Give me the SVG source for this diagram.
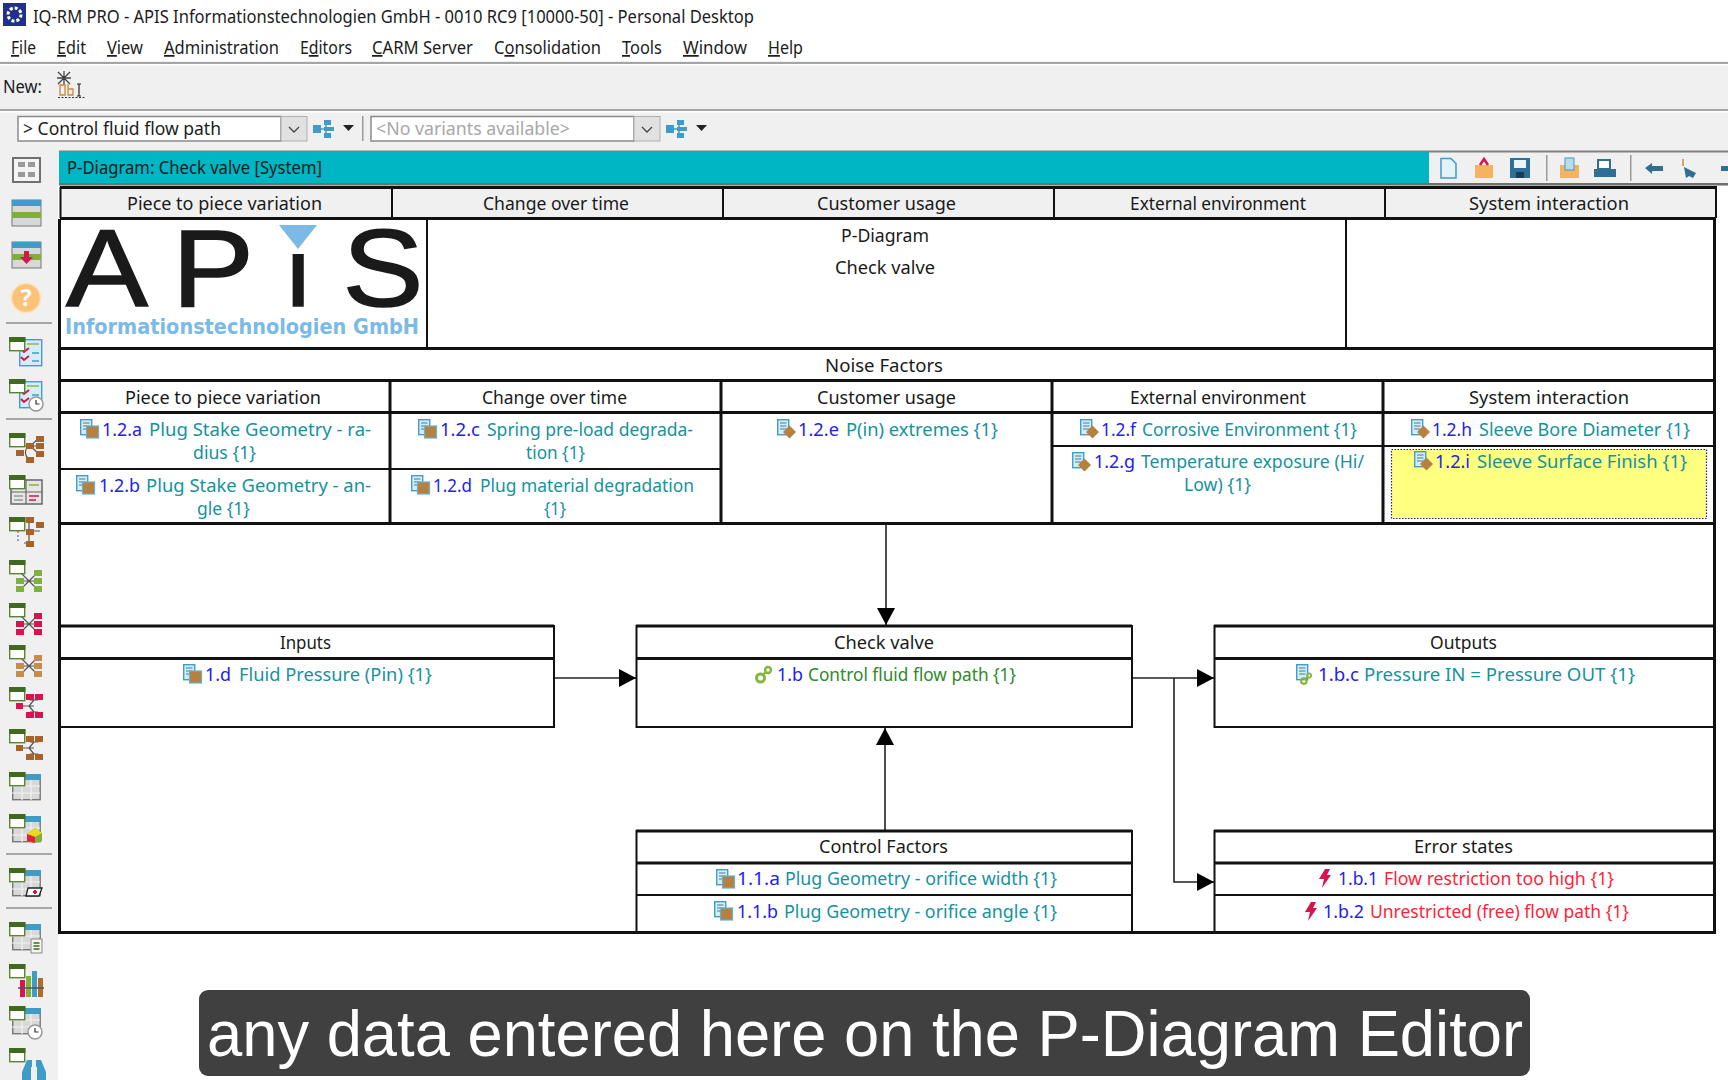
<svg xmlns="http://www.w3.org/2000/svg" width="1728" height="1080" viewBox="0 0 1728 1080">
<style>
text{font-family:"Noto Sans","Liberation Sans",sans-serif;font-size:18px;fill:#1a1a1a;white-space:pre}
.ui{font-size:17.5px;fill:#1c1c1c}
.g{fill:#a8a8a8}
.id{fill:#2222ee}
.tl{fill:#16929e}
.gr{fill:#2f8a2a}
.rd{fill:#ff1f3a}
.h{fill:none;stroke:#111;stroke-width:3}
.m{fill:none;stroke:#111;stroke-width:2}
.c{fill:none;stroke:#222;stroke-width:1.6}
.sep{stroke:#8f8f8f;stroke-width:1.5}
.lg{font-family:"Liberation Sans",sans-serif;font-size:110px;fill:#1a1a1a;stroke:#1a1a1a;stroke-width:1.5}
</style>
<defs>
<marker id="ah" markerUnits="userSpaceOnUse" markerWidth="18" markerHeight="18" refX="17" refY="9" orient="auto"><path d="M0 0L17 9L0 18Z" fill="#000"/></marker>
<g id="doc"><rect x=".7" y=".7" width="11" height="15" fill="#d4edf7" stroke="#3f9fc6" stroke-width="1.4"/><path d="M3 4h6.500M3 7h6.500M3 10h6.500" stroke="#3f7f9f" stroke-width="1"/></g>
<g id="i-sq"><use href="#doc"/><rect x="6.500" y="7" width="12" height="12" fill="#b8803e" stroke="#5fb3d4" stroke-width="1.200"/></g>
<g id="i-dia"><use href="#doc"/><path d="M12.500 6.500l6.500 6.500l-6.500 6.500l-6.500-6.500Z" fill="#b8803e"/></g>
<g id="i-gear"><circle cx="5.500" cy="13" r="4" fill="none" stroke="#86b53c" stroke-width="3"/><circle cx="13" cy="5" r="3" fill="none" stroke="#86b53c" stroke-width="2.400"/><path d="M8 10l3-3" stroke="#86b53c" stroke-width="2.400"/></g>
<path id="i-bolt" d="M9 0L14 0L11 6L15 6L6 19L8 10L3 10Z" fill="#d9134f"/>
<g id="win"><rect x="9.700" y=".7" width="15" height="13" fill="#fff" stroke="#5c8236" stroke-width="1.400"/><rect x="9" y="0" width="16.400" height="5" fill="#3f6a1f"/></g>
<g id="grid"><rect x="12.700" y="3.700" width="27.500" height="24" fill="#d8d8d8" stroke="#777" stroke-width="1.400"/><rect x="25" y="2" width="16" height="6" fill="#3f9cc6"/><path d="M12 14h28M12 21h28M22 8v20M31 8v20" stroke="#f2f2f2" stroke-width="1.200"/></g>
<g id="clk"><circle r="7" fill="#fff" stroke="#999" stroke-width="1.500"/><path d="M0-4V0H3.500" fill="none" stroke="#333" stroke-width="1.200"/></g>
<g id="listdoc"><rect x="19.700" y="2.700" width="22" height="26" fill="#d4edf7" stroke="#3f9fc6" stroke-width="1.400"/><path d="M27 7h12" stroke="#8ab83e" stroke-width="1.500"/><path d="M21 12l3 3l5-4M21 20l3 3l5-4" fill="none" stroke="#d9134f" stroke-width="2"/><path d="M32 16h7M32 24h7" stroke="#3f9fc6" stroke-width="1.300"/></g>
<g id="bfly"><path d="M29 21L20 12M29 21L20 21M29 21L20 30M29 21L38 12M29 21L38 21M29 21L38 30" stroke="#555" stroke-width="1.200"/><rect x="16" y="18" width="8" height="6"/><rect x="16" y="26" width="8" height="6"/><rect x="34" y="10" width="8" height="6"/><rect x="34" y="18" width="8" height="6"/><rect x="34" y="26" width="8" height="6"/></g>
<g id="fish"><path d="M20 19H29M29 19L34 13M29 19L34 19M29 19L34 25M38 13H30M38 25H30" fill="none" stroke="#555" stroke-width="1.200"/><rect x="16" y="16" width="7" height="6"/><rect x="26" y="7" width="8" height="6"/><rect x="35" y="7" width="8" height="6"/><rect x="26" y="25" width="8" height="6"/><rect x="35" y="25" width="8" height="6"/></g>
</defs>

<rect width="1728" height="1080" fill="#fff"/>

<g id="title-bar">
<rect x="3" y="3" width="23" height="23" fill="#20308c"/><circle cx="14.500" cy="14.500" r="6.500" fill="none" stroke="#fff" stroke-width="3" stroke-dasharray="3 2"/>
<text x="33" y="23" class="ui" textLength="721" lengthAdjust="spacingAndGlyphs">IQ-RM PRO - APIS Informationstechnologien GmbH - 0010 RC9 [10000-50] - Personal Desktop</text>
</g>
<g id="menu">
<text x="11" y="54" class="ui" textLength="25" lengthAdjust="spacingAndGlyphs"><tspan text-decoration="underline">F</tspan>ile</text>
<text x="57" y="54" class="ui" textLength="29" lengthAdjust="spacingAndGlyphs"><tspan text-decoration="underline">E</tspan>dit</text>
<text x="107" y="54" class="ui" textLength="36" lengthAdjust="spacingAndGlyphs"><tspan text-decoration="underline">V</tspan>iew</text>
<text x="164" y="54" class="ui" textLength="115" lengthAdjust="spacingAndGlyphs"><tspan text-decoration="underline">A</tspan>dministration</text>
<text x="300" y="54" class="ui" textLength="52" lengthAdjust="spacingAndGlyphs">E<tspan text-decoration="underline">d</tspan>itors</text>
<text x="372" y="54" class="ui" textLength="101" lengthAdjust="spacingAndGlyphs"><tspan text-decoration="underline">C</tspan>ARM Server</text>
<text x="494" y="54" class="ui" textLength="107" lengthAdjust="spacingAndGlyphs">C<tspan text-decoration="underline">o</tspan>nsolidation</text>
<text x="622" y="54" class="ui" textLength="40" lengthAdjust="spacingAndGlyphs"><tspan text-decoration="underline">T</tspan>ools</text>
<text x="683" y="54" class="ui" textLength="64" lengthAdjust="spacingAndGlyphs"><tspan text-decoration="underline">W</tspan>indow</text>
<text x="768" y="54" class="ui" textLength="35" lengthAdjust="spacingAndGlyphs"><tspan text-decoration="underline">H</tspan>elp</text>
</g>

<g id="toolbars">
<rect x="0" y="61" width="1728" height="125" fill="#f0f0f0"/>
<rect x="0" y="62" width="1728" height="2" fill="#a5a5a5"/>
<rect x="0" y="64" width="1728" height="1.500" fill="#fff"/>
<rect x="0" y="109" width="1728" height="2" fill="#a5a5a5"/>
<rect x="0" y="111" width="1728" height="1.500" fill="#fff"/>
<text x="3" y="93" class="ui" textLength="39" lengthAdjust="spacingAndGlyphs">New:</text>
<path d="M58 72L70 84M70 72L58 84M64 71V85M57 78H71M60 74L68 82M68 74L60 82" stroke="#444" stroke-width="1.300"/>
<path d="M58 97.500H85" stroke="#333" stroke-width="1.200" stroke-dasharray="2 1.500"/>
<path d="M60 85h5v10h-5zM68 84v11h5v-6h-5" fill="none" stroke="#c98a3a" stroke-width="1.300"/>
<path d="M79 84v12M77 84h4M77 96h4" stroke="#222" stroke-width="1.200" fill="none"/>
<g id="combo-path">
<rect x="18" y="116.500" width="263" height="24.500" fill="#fff" stroke="#8a8a8a" stroke-width="1.500"/>
<rect x="281" y="116.500" width="26" height="24.500" fill="#e1e1e1" stroke="#b0b0b0"/>
<path d="M289 127l5 5l5-5" fill="none" stroke="#444" stroke-width="1.300"/>
<text x="23" y="135" class="ui" textLength="198" lengthAdjust="spacingAndGlyphs">&gt; Control fluid flow path</text>
<g id="combo-icon1"><path d="M318 129H326M326 123V135" stroke="#3f9cc6" stroke-width="1.500"/><rect x="313" y="125" width="8" height="8" fill="#3f9cc6"/><rect x="324" y="120" width="7" height="5" fill="#3f9cc6"/><rect x="324" y="127" width="10" height="4" fill="#3f9cc6"/><rect x="324" y="133" width="7" height="5" fill="#3f9cc6"/></g>
<path d="M343 125H354L348.500 131Z" fill="#222"/>
</g>
<rect x="362" y="116" width="1.500" height="25" fill="#9a9a9a"/>
<g id="combo-variant">
<rect x="371" y="116.500" width="263" height="24.500" fill="#fff" stroke="#8a8a8a" stroke-width="1.500"/>
<rect x="634" y="116.500" width="26" height="24.500" fill="#e1e1e1" stroke="#b0b0b0"/>
<path d="M642 127l5 5l5-5" fill="none" stroke="#444" stroke-width="1.300"/>
<text x="376" y="135" class="ui g" textLength="194" lengthAdjust="spacingAndGlyphs">&lt;No variants available&gt;</text>
<use href="#combo-icon1" x="353"/>
<path d="M696 125H707L701.500 131Z" fill="#222"/>
</g>
</g>

<g id="left-rail">
<rect x="0" y="150" width="58" height="930" fill="#f0f0f0"/>
<g transform="translate(0,157)"><rect x="13" y="1" width="27" height="24" fill="#f4f4f4" stroke="#707070" stroke-width="2"/><rect x="18" y="5" width="7" height="5" fill="#9a9a9a"/><rect x="28" y="5" width="7" height="5" fill="#9a9a9a"/><rect x="18" y="15" width="7" height="5" fill="#9a9a9a"/><rect x="28" y="15" width="7" height="5" fill="#9a9a9a"/></g>
<g id="tbl-a" transform="translate(0,200)"><rect x="12" y="0" width="29" height="26" fill="#d8d8d8" stroke="#777"/><rect x="12" y="0" width="29" height="6" fill="#3f9cc6"/><rect x="12" y="12" width="29" height="6" fill="#7fae3a"/></g>
<g transform="translate(0,242)"><rect x="12" y="0" width="29" height="26" fill="#d8d8d8" stroke="#777"/><rect x="12" y="0" width="29" height="6" fill="#3f9cc6"/><rect x="12" y="12" width="29" height="6" fill="#7fae3a"/><path d="M24 9h5v6h4l-6.500 7l-6.500-7h4Z" fill="#d9134f"/></g>
<circle cx="26" cy="298" r="14.500" fill="#fbc27a" stroke="#fde2bd" stroke-width="1.500"/>
<text x="26" y="306" text-anchor="middle" style="font-size:23px;font-weight:700;fill:#fff">?</text>
<path class="sep" d="M6 323H52M6 419H52M6 854H52M6 908H52"/>
<g transform="translate(0,337)"><use href="#listdoc"/><use href="#win"/></g>
<g transform="translate(0,379)"><use href="#listdoc"/><use href="#win"/><use href="#clk" x="36" y="25"/></g>
<g transform="translate(0,433)" fill="#a8622a"><path d="M30 13H20M30 13L38 6M30 13H38M30 13L38 20M26 16Q24 24 30 26" fill="none" stroke="#555" stroke-width="1.200"/><rect x="26" y="10" width="8" height="6"/><rect x="36" y="3" width="8" height="6"/><rect x="36" y="10" width="8" height="6"/><rect x="36" y="18" width="8" height="6"/><rect x="16" y="17" width="8" height="6"/><rect x="26" y="24" width="8" height="6"/><use href="#win"/></g>
<g transform="translate(0,475)"><rect x="11" y="5" width="31" height="24" fill="#e6e6e6" stroke="#666" stroke-width="1.500"/><path d="M26 5v24M11 17h31" stroke="#666" stroke-width="1.200"/><path d="M29 10h10" stroke="#8ab83e" stroke-width="1.600"/><path d="M29 21h10M29 25h7" stroke="#d9134f" stroke-width="1.500"/><path d="M14 21h9M14 25h9" stroke="#999" stroke-width="1.300"/><use href="#win"/></g>
<g transform="translate(0,517)" fill="#a8622a"><path d="M29 5V26H24M29 14H40" fill="none" stroke="#555" stroke-width="1.200"/><path d="M18 14V26" stroke="#555" stroke-dasharray="2 2"/><rect x="26" y="0" width="8" height="6"/><rect x="36" y="5" width="8" height="6"/><rect x="26" y="12" width="8" height="6"/><rect x="26" y="24" width="8" height="6"/><use href="#win"/></g>
<g transform="translate(0,560)" fill="#7fb23a"><use href="#bfly"/><use href="#win"/></g>
<g transform="translate(0,603)" fill="#d9134f"><use href="#bfly"/><use href="#win"/></g>
<g transform="translate(0,645)" fill="#c98c4a"><use href="#bfly"/><use href="#win"/></g>
<g transform="translate(0,687)" fill="#d9134f"><use href="#fish"/><use href="#win"/></g>
<g transform="translate(0,729)" fill="#a8622a"><use href="#fish"/><use href="#win"/></g>
<g transform="translate(0,772)"><use href="#grid"/><use href="#win"/></g>
<g transform="translate(0,814)"><use href="#grid"/><use href="#win"/><path d="M27 20L35 14L42 19V27L35 29L27 27Z" fill="#7fb23a"/><path d="M27 20L35 14L42 19L35 23Z" fill="#eadb1e"/><path d="M27 20L35 23V29L27 27Z" fill="#e8203a"/></g>
<g transform="translate(0,868)"><use href="#grid"/><use href="#win"/><path d="M28 20H42L39 28H26Z" fill="#fff" stroke="#222" stroke-width="1.300"/><path d="M33 24h4M35 22v4" stroke="#d9134f" stroke-width="2"/></g>
<g transform="translate(0,922)"><use href="#grid"/><use href="#win"/><rect x="31" y="17" width="11" height="14" fill="#f4f4f4" stroke="#888"/><path d="M33.500 21h6M33.500 24h6M33.500 27h6" stroke="#3f6a1f" stroke-width="1.300"/></g>
<g transform="translate(0,964)"><use href="#win"/><rect x="20" y="16" width="5" height="17" fill="#d9134f"/><rect x="26" y="12" width="5" height="21" fill="#7fb23a"/><rect x="32" y="7" width="5" height="26" fill="#3f9cc6"/><rect x="38" y="14" width="5" height="19" fill="#b0692e"/><path d="M18 24H44" stroke="#555" stroke-width="1.500"/></g>
<g transform="translate(0,1006)"><use href="#grid"/><use href="#win"/><use href="#clk" x="35" y="26"/></g>
<g transform="translate(0,1048)" fill="#3f9cc6"><use href="#win"/><path d="M27 12h5v7h-1v13H22V24ZM36 12h5l5 12v8H37V19h-1Z"/></g>
</g>

<g id="editor-bar">
<rect x="59" y="150.500" width="1669" height="2" fill="#808080"/>
<rect x="59" y="152" width="1370" height="32" fill="#00b5c4"/>
<rect x="59" y="183" width="1669" height="2.500" fill="#707070"/>
<text x="67" y="174" class="ui" textLength="255" lengthAdjust="spacingAndGlyphs" style="fill:#102020">P-Diagram: Check valve [System]</text>
<g id="bar-icons">
<path d="M1441 158.500h10l5 5v14.500h-15Z" fill="#e2f3fb" stroke="#3f9cc6" stroke-width="1.500"/>
<path d="M1475 165h18v13h-18Z" fill="#f4b35e"/><path d="M1480 165l4-6l4 6" fill="none" stroke="#d9134f" stroke-width="2.500"/>
<path d="M1510 158h20v20h-20Z" fill="#2f6f94"/><rect x="1514" y="160" width="12" height="8" fill="#e8f4f8"/><rect x="1516" y="172" width="8" height="6" fill="#173f59"/>
<rect x="1546" y="155" width="1.500" height="26" fill="#9a9a9a"/>
<path d="M1560 165h19v13h-19Z" fill="#f4b35e"/><rect x="1565" y="158" width="9" height="12" fill="#b9dcec" stroke="#3f9cc6"/>
<path d="M1598 160h12v9h-12Z" fill="#fff" stroke="#2f6f94" stroke-width="2"/><rect x="1594" y="169" width="22" height="8" fill="#2f6f94"/>
<rect x="1630" y="155" width="1.500" height="26" fill="#9a9a9a"/>
<path d="M1645 168l7-5v3h11v5h-11v3Z" fill="#2f6f94"/>
<path d="M1684 167l12 6l-3 5l-4-2l-3 2Z" fill="#2f6f94"/><path d="M1683 159v7" stroke="#c98a3a" stroke-width="1.500"/>
<path d="M1728 166h-7v5h7Z" fill="#2f6f94"/>
</g>
</g>

<g id="influence-header">
<rect x="60" y="187.500" width="1657" height="31" fill="#f0f0f0"/>
<path class="h" d="M60 187.500H1717"/>
<path class="m" d="M60.500 187V218M392 187V218M723 187V218M1054 187V218M1385 187V218M1716 187V218"/>
<path class="h" d="M60 218.500H1716"/>
<text x="127" y="210" textLength="195" lengthAdjust="spacingAndGlyphs">Piece to piece variation</text>
<text x="483" y="210" textLength="146" lengthAdjust="spacingAndGlyphs">Change over time</text>
<text x="817" y="210" textLength="139" lengthAdjust="spacingAndGlyphs">Customer usage</text>
<text x="1130" y="210" textLength="176" lengthAdjust="spacingAndGlyphs">External environment</text>
<text x="1469" y="210" textLength="160" lengthAdjust="spacingAndGlyphs">System interaction</text>
</g>

<g id="frame">
<path class="h" d="M59.500 219V933M1714.500 219V933"/>
<path class="h" d="M58 932.500H1716"/>
</g>

<g id="logo">
<text class="lg" x="66" y="306" textLength="82" lengthAdjust="spacingAndGlyphs">A</text>
<text class="lg" x="172" y="306" textLength="82" lengthAdjust="spacingAndGlyphs">P</text>
<text class="lg" x="286" y="306">i</text>
<text class="lg" x="342.500" y="306" textLength="81" lengthAdjust="spacingAndGlyphs">S</text>
<rect x="282" y="220.500" width="34" height="33.500" fill="#fff"/>
<path d="M279 225H317L298 249Z" fill="#7bbae6"/>
<text x="65" y="334" textLength="354" lengthAdjust="spacingAndGlyphs" style="font-size:21px;font-weight:700;fill:#7bbae6;font-family:'DejaVu Sans',sans-serif">Informationstechnologien GmbH</text>
</g>
<g id="title-cell">
<path class="m" d="M427 219V348M1346 219V348"/>
<text x="841" y="242" textLength="88" lengthAdjust="spacingAndGlyphs">P-Diagram</text>
<text x="835" y="274" textLength="100" lengthAdjust="spacingAndGlyphs">Check valve</text>
</g>
<g id="noise-factors">
<path class="h" d="M60 348.500H1714M60 380.500H1714M60 412.500H1714"/>
<path class="h" d="M60 523.500H1714"/>
<path class="h" d="M390 381V523M721 381V523M1052 381V523M1383 381V523"/>
<path class="m" d="M60 469H721M1052 446H1714"/>
<text x="825" y="372" textLength="118" lengthAdjust="spacingAndGlyphs">Noise Factors</text>
<text x="125" y="404" textLength="196" lengthAdjust="spacingAndGlyphs">Piece to piece variation</text>
<text x="482" y="404" textLength="145" lengthAdjust="spacingAndGlyphs">Change over time</text>
<text x="817" y="404" textLength="139" lengthAdjust="spacingAndGlyphs">Customer usage</text>
<text x="1130" y="404" textLength="176" lengthAdjust="spacingAndGlyphs">External environment</text>
<text x="1469" y="404" textLength="160" lengthAdjust="spacingAndGlyphs">System interaction</text>
</g>
<g id="item-12a"><use href="#i-sq" x="80" y="419"/><text x="102" y="436" class="id" textLength="40" lengthAdjust="spacingAndGlyphs">1.2.a</text><text x="149" y="436" class="tl" textLength="222" lengthAdjust="spacingAndGlyphs">Plug Stake Geometry - ra-</text><text x="193" y="459" class="tl" textLength="63" lengthAdjust="spacingAndGlyphs">dius {1}</text></g>
<g id="item-12b"><use href="#i-sq" x="76" y="475"/><text x="99" y="491.500" class="id" textLength="41" lengthAdjust="spacingAndGlyphs">1.2.b</text><text x="146" y="491.500" class="tl" textLength="225" lengthAdjust="spacingAndGlyphs">Plug Stake Geometry - an-</text><text x="197" y="515" class="tl" textLength="53" lengthAdjust="spacingAndGlyphs">gle {1}</text></g>
<g id="item-12c"><use href="#i-sq" x="418" y="419"/><text x="440" y="436" class="id" textLength="40" lengthAdjust="spacingAndGlyphs">1.2.c</text><text x="487" y="436" class="tl" textLength="206" lengthAdjust="spacingAndGlyphs">Spring pre-load degrada-</text><text x="526" y="459" class="tl" textLength="59" lengthAdjust="spacingAndGlyphs">tion {1}</text></g>
<g id="item-12d"><use href="#i-sq" x="411" y="475"/><text x="433" y="491.500" class="id" textLength="39" lengthAdjust="spacingAndGlyphs">1.2.d</text><text x="480" y="491.500" class="tl" textLength="214" lengthAdjust="spacingAndGlyphs">Plug material degradation</text><text x="544" y="515" class="tl" textLength="22" lengthAdjust="spacingAndGlyphs">{1}</text></g>
<g id="item-12e"><use href="#i-dia" x="777" y="419"/><text x="798" y="436" class="id" textLength="41" lengthAdjust="spacingAndGlyphs">1.2.e</text><text x="846" y="436" class="tl" textLength="152" lengthAdjust="spacingAndGlyphs">P(in) extremes {1}</text></g>
<g id="item-12f"><use href="#i-dia" x="1080" y="419"/><text x="1101" y="436" class="id" textLength="35" lengthAdjust="spacingAndGlyphs">1.2.f</text><text x="1142" y="436" class="tl" textLength="215" lengthAdjust="spacingAndGlyphs">Corrosive Environment {1}</text></g>
<g id="item-12g"><use href="#i-dia" x="1072" y="452"/><text x="1094" y="468" class="id" textLength="41" lengthAdjust="spacingAndGlyphs">1.2.g</text><text x="1141" y="468" class="tl" textLength="223" lengthAdjust="spacingAndGlyphs">Temperature exposure (Hi/</text><text x="1184" y="491" class="tl" textLength="67" lengthAdjust="spacingAndGlyphs">Low) {1}</text></g>
<g id="item-12h"><use href="#i-dia" x="1411" y="419"/><text x="1432" y="436" class="id" textLength="40" lengthAdjust="spacingAndGlyphs">1.2.h</text><text x="1479" y="436" class="tl" textLength="211" lengthAdjust="spacingAndGlyphs">Sleeve Bore Diameter {1}</text></g>
<g id="item-12i"><rect x="1391.500" y="449.500" width="315" height="69" fill="#ffff80" stroke="#202080" stroke-width="1.200" stroke-dasharray="1.500 1.500"/><use href="#i-dia" x="1414" y="451"/><text x="1435" y="468" class="id" textLength="35" lengthAdjust="spacingAndGlyphs">1.2.i</text><text x="1477" y="468" class="tl" textLength="210" lengthAdjust="spacingAndGlyphs">Sleeve Surface Finish {1}</text></g>

<g id="connectors">
<path class="c" marker-end="url(#ah)" d="M886 524V625"/>
<path class="c" marker-end="url(#ah)" d="M554 678H636"/>
<path class="c" marker-end="url(#ah)" d="M1132 678H1214"/>
<path class="c" marker-end="url(#ah)" d="M1174 678V882H1214"/>
<path class="c" marker-end="url(#ah)" d="M885 830V728"/>
</g>

<g id="node-inputs">
<path class="h" d="M60 626H554M60 658.500H554"/><path class="m" d="M60 727H554M554 625V728"/>
<text x="280" y="649" textLength="51" lengthAdjust="spacingAndGlyphs">Inputs</text>
<use href="#i-sq" x="183" y="664"/>
<text x="205" y="681" class="id" textLength="26" lengthAdjust="spacingAndGlyphs">1.d</text><text x="239" y="681" class="tl" textLength="193" lengthAdjust="spacingAndGlyphs">Fluid Pressure (Pin) {1}</text>
</g>
<g id="node-function">
<path class="h" d="M636 626H1132M636 658.500H1132"/><path class="m" d="M636 727H1132M636.500 625V728M1132 625V728"/>
<text x="834" y="649" textLength="100" lengthAdjust="spacingAndGlyphs">Check valve</text>
<use href="#i-gear" x="755" y="665"/>
<text x="777" y="681" class="id" textLength="26" lengthAdjust="spacingAndGlyphs">1.b</text><text x="808" y="681" class="gr" textLength="208" lengthAdjust="spacingAndGlyphs">Control fluid flow path {1}</text>
</g>
<g id="node-outputs">
<path class="h" d="M1214 626H1714M1214 658.500H1714"/><path class="m" d="M1214 727H1714M1214.500 625V728"/>
<text x="1430" y="649" textLength="67" lengthAdjust="spacingAndGlyphs">Outputs</text>
<use href="#doc" x="1296" y="664"/><use href="#i-gear" transform="translate(1300 672) scale(.7)"/>
<text x="1318" y="681" class="id" textLength="41" lengthAdjust="spacingAndGlyphs">1.b.c</text><text x="1364" y="681" class="tl" textLength="271" lengthAdjust="spacingAndGlyphs">Pressure IN = Pressure OUT {1}</text>
</g>
<g id="node-control">
<path class="h" d="M636 831H1132M636 863H1132"/><path class="m" d="M636 895H1132M636.500 830V932M1132 830V932"/>
<text x="819" y="853" textLength="129" lengthAdjust="spacingAndGlyphs">Control Factors</text>
<use href="#i-sq" x="716" y="869"/>
<text x="737" y="885" class="id" textLength="43" lengthAdjust="spacingAndGlyphs">1.1.a</text><text x="785" y="885" class="tl" textLength="272" lengthAdjust="spacingAndGlyphs">Plug Geometry - orifice width {1}</text>
<use href="#i-sq" x="714" y="901"/>
<text x="737" y="918" class="id" textLength="41" lengthAdjust="spacingAndGlyphs">1.1.b</text><text x="784" y="918" class="tl" textLength="273" lengthAdjust="spacingAndGlyphs">Plug Geometry - orifice angle {1}</text>
</g>
<g id="node-errors">
<path class="h" d="M1214 831H1714M1214 863H1714"/><path class="m" d="M1214 895H1714M1214.500 830V932"/>
<text x="1414" y="853" textLength="99" lengthAdjust="spacingAndGlyphs">Error states</text>
<use href="#i-bolt" x="1316" y="869"/>
<text x="1338" y="885" class="id" textLength="40" lengthAdjust="spacingAndGlyphs">1.b.1</text><text x="1384" y="885" class="rd" textLength="230" lengthAdjust="spacingAndGlyphs">Flow restriction too high {1}</text>
<use href="#i-bolt" x="1302" y="902"/>
<text x="1323" y="918" class="id" textLength="41" lengthAdjust="spacingAndGlyphs">1.b.2</text><text x="1370" y="918" class="rd" textLength="259" lengthAdjust="spacingAndGlyphs">Unrestricted (free) flow path {1}</text>
</g>

<g id="caption">
<rect x="199" y="990" width="1331" height="86" rx="9" fill="#404040"/>
<text x="207" y="1056" textLength="1316" lengthAdjust="spacingAndGlyphs" style="font-family:'Liberation Sans',sans-serif;font-size:64px;fill:#fff">any data entered here on the P-Diagram Editor</text>
</g>
</svg>
